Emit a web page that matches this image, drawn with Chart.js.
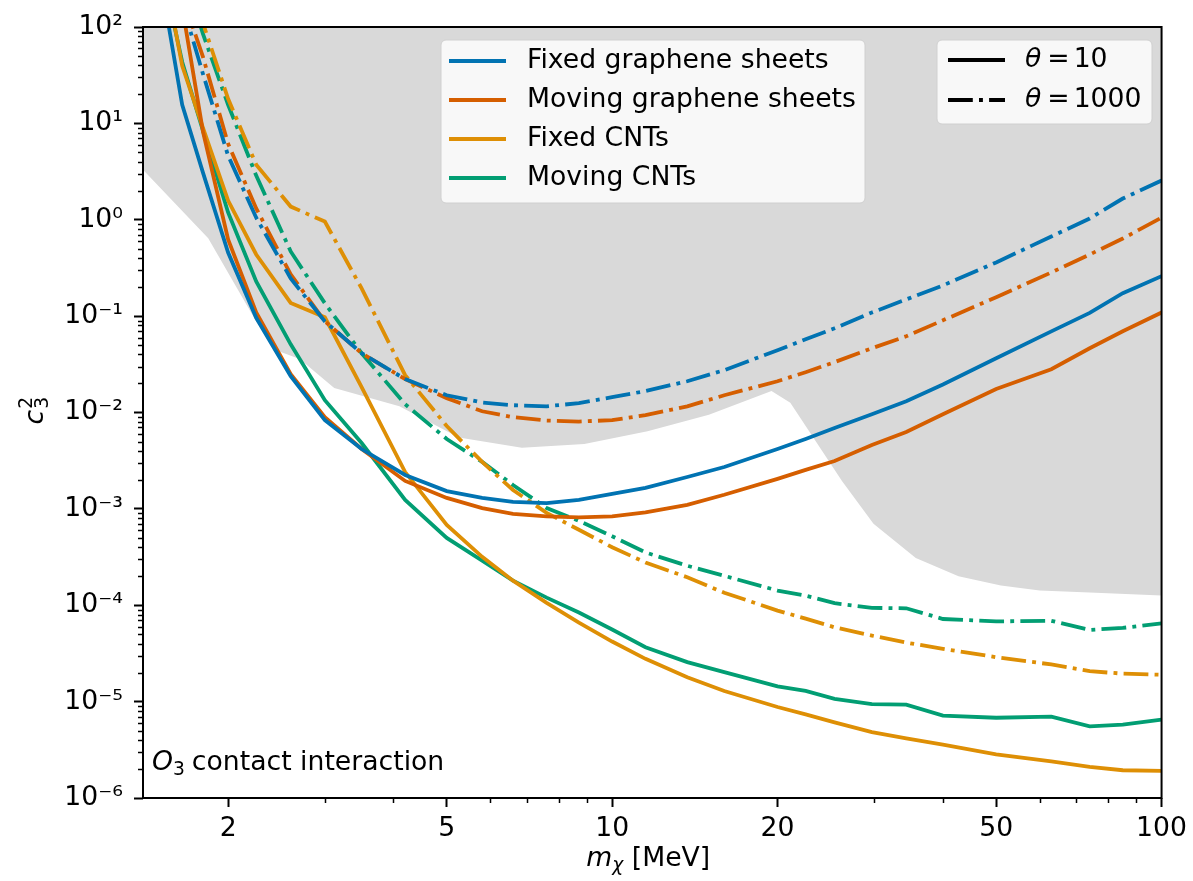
<!DOCTYPE html>
<html>
<head>
<meta charset="utf-8">
<script src="https://cdn.jsdelivr.net/npm/chart.js@4.4.0/dist/chart.umd.min.js"></script>
<style>
  html, body { margin: 0; padding: 0; background: #fff; }
</style>
</head>
<body>
<canvas id="limits-chart" width="1193" height="881"></canvas>
<script>
// dark matter mass grid (MeV)
const massMeV = [1.5, 1.55, 1.65, 1.8, 2.0, 2.25, 2.6, 3.0, 3.5, 4.2, 5.0, 5.8, 6.6, 7.6, 8.7,
    10, 11.5, 13.7, 16, 20, 22.5, 25.4, 29.7, 34.3, 40, 50, 63, 74, 85, 100];

// c3^2 reach, theta = 10
const fixedGrapheneT10 = [376, 125, 15.6, 3.08, 0.457, 0.096, 0.0238, 0.00834, 0.00418, 0.00225, 0.00153, 0.0013, 0.00118, 0.00115, 0.00124,
    0.00143, 0.00165, 0.00214, 0.00272, 0.00418, 0.00531, 0.0069, 0.0096, 0.0131, 0.0195, 0.0365, 0.0695, 0.108, 0.173, 0.26];
const movingGrapheneT10 = [2000, 960, 161, 8.2, 0.624, 0.109, 0.025, 0.00895, 0.00418, 0.00195, 0.0013, 0.00102, 8.87e-4, 8.36e-4, 8.17e-4,
    8.36e-4, 9.2e-4, 1.1e-3, 1.4e-3, 2.05e-3, 2.54e-3, 3.14e-3, 4.6e-3, 6.27e-3, 9.6e-3, 0.0175, 0.0281, 0.0464, 0.0697, 0.109];
const fixedCNTT10 = [400, 260, 39.5, 9.0, 1.58, 0.436, 0.137, 0.0972, 0.0183, 0.00241, 6.8e-4, 3.18e-4, 1.8e-4, 1.06e-4, 6.6e-5,
    4.2e-5, 2.78e-5, 1.79e-5, 1.29e-5, 8.8e-6, 7.37e-6, 6.1e-6, 4.83e-6, 4.16e-6, 3.58e-6, 2.84e-6, 2.4e-6, 2.1e-6, 1.94e-6, 1.91e-6];
const movingCNTT10 = [500, 223, 43.4, 8.4, 1.19, 0.229, 0.051, 0.0134, 0.00482, 0.00124, 5.0e-4, 2.9e-4, 1.8e-4, 1.2e-4, 8.4e-5,
    5.6e-5, 3.67e-5, 2.57e-5, 2.02e-5, 1.44e-5, 1.29e-5, 1.07e-5, 9.4e-6, 9.3e-6, 7.15e-6, 6.8e-6, 7.0e-6, 5.53e-6, 5.77e-6, 6.5e-6];

// c3^2 reach, theta = 1000
const fixedGrapheneT1000 = [1200, 630, 175, 32.6, 4.62, 1.05, 0.246, 0.0883, 0.0412, 0.0222, 0.0151, 0.0127, 0.0119, 0.0116, 0.0125,
    0.0144, 0.0167, 0.0211, 0.0275, 0.0443, 0.0575, 0.0748, 0.109, 0.149, 0.208, 0.361, 0.67, 1.03, 1.66, 2.55];
const movingGrapheneT1000 = [1400, 750, 210, 49, 6.15, 1.31, 0.271, 0.0883, 0.0412, 0.0222, 0.0141, 0.0103, 0.00895, 0.00824, 0.00805,
    0.00834, 0.0094, 0.0116, 0.0151, 0.0211, 0.0262, 0.0333, 0.0464, 0.0618, 0.0905, 0.157, 0.284, 0.436, 0.638, 1.05];
const fixedCNTT1000 = [2500, 1400, 490, 110, 18.0, 3.73, 1.37, 0.957, 0.194, 0.0244, 0.00723, 0.00307, 0.00157, 9.1e-4, 6.07e-4,
    4.0e-4, 2.78e-4, 1.95e-4, 1.35e-4, 8.8e-5, 7.27e-5, 5.9e-5, 4.84e-5, 4.1e-5, 3.53e-5, 2.89e-5, 2.43e-5, 2.07e-5, 1.95e-5, 1.9e-5];
const movingCNTT1000 = [2000, 1000, 430, 84.7, 15.6, 2.87, 0.469, 0.136, 0.0412, 0.0122, 0.00531, 0.00307, 0.00177, 0.00102, 7.5e-4,
    5.2e-4, 3.53e-4, 2.57e-4, 2.02e-4, 1.42e-4, 1.26e-4, 1.05e-4, 9.4e-5, 9.3e-5, 7.2e-5, 6.8e-5, 6.9e-5, 5.55e-5, 5.82e-5, 6.5e-5];

// lower edge of the shaded (excluded) region
const exclusionMass = [1.4, 1.84, 2.25, 2.48, 2.7, 3.12, 4.1, 5.26, 6.85, 8.9, 11.6, 15, 19.5, 21.1, 26.2, 29.9, 35.7, 42.7, 51, 60, 74, 100];
const exclusionC3sq = [3.3, 0.644, 0.088, 0.043, 0.036, 0.018, 0.0116, 0.0055, 0.0043, 0.0047, 0.0064, 0.0095, 0.0167, 0.0126, 0.00195,
    7e-4, 3.1e-4, 2.0e-4, 1.6e-4, 1.42e-4, 1.36e-4, 1.26e-4];

const xMajorTicks = [2, 5, 10, 20, 50, 100];
const xMinorTicks = [3, 4, 6, 7, 8, 9, 30, 40, 60, 70, 80, 90];
const yMajorTicks = [1e-6, 1e-5, 1e-4, 1e-3, 1e-2, 1e-1, 1, 10, 100];
const yTickLabels = ['10⁻⁶', '10⁻⁵', '10⁻⁴', '10⁻³', '10⁻²', '10⁻¹', '10⁰', '10¹', '10²'];

const materialLabels = ['Fixed graphene sheets', 'Moving graphene sheets', 'Fixed CNTs', 'Moving CNTs'];
const materialColors = ['#0173b2', '#d55e00', '#de8f05', '#029e73'];
const thetaLabels = ['10', '1000'];

const FONT = 'DejaVu Sans';
const FS = 26.67;
const SUB = 18.7;
const LW = 3.8;
const DASHDOT = [24.8, 6.2, 3.9, 6.2];

function points(xs, ys) {
    return xs.map((x, i) => ({ x: x, y: ys[i] }));
}

function lineSet(label, values, color, dashed) {
    return {
        label: label,
        data: points(massMeV, values),
        borderColor: color,
        borderWidth: LW,
        borderDash: dashed ? DASHDOT : [],
        pointRadius: 0,
        tension: 0,
        fill: false,
        order: 1
    };
}

const t10 = [fixedGrapheneT10, movingGrapheneT10, fixedCNTT10, movingCNTT10];
const t1000 = [fixedGrapheneT1000, movingGrapheneT1000, fixedCNTT1000, movingCNTT1000];

const datasets = [{
    label: 'excluded',
    data: points(exclusionMass, exclusionC3sq),
    borderWidth: 0,
    borderColor: 'rgba(0,0,0,0)',
    backgroundColor: '#d9d9d9',
    pointRadius: 0,
    tension: 0,
    fill: 'end',
    order: 10
}];
materialLabels.forEach((name, i) => {
    datasets.push(lineSet(name + ' θ=10', t10[i], materialColors[i], false));
    datasets.push(lineSet(name + ' θ=1000', t1000[i], materialColors[i], true));
});

function roundRect(ctx, x, y, w, h, r) {
    ctx.beginPath();
    ctx.moveTo(x + r, y);
    ctx.arcTo(x + w, y, x + w, y + h, r);
    ctx.arcTo(x + w, y + h, x, y + h, r);
    ctx.arcTo(x, y + h, x, y, r);
    ctx.arcTo(x, y, x + w, y, r);
    ctx.closePath();
}

function legendFrame(ctx, x, y, w, h) {
    roundRect(ctx, x, y, w, h, 5);
    ctx.fillStyle = 'rgba(255,255,255,0.8)';
    ctx.fill();
    ctx.strokeStyle = '#d0d0d0';
    ctx.lineWidth = 1;
    ctx.stroke();
}

function legendLine(ctx, x1, x2, y, color, dash) {
    ctx.save();
    ctx.strokeStyle = color;
    ctx.lineWidth = LW;
    ctx.setLineDash(dash);
    ctx.beginPath();
    ctx.moveTo(x1, y);
    ctx.lineTo(x2, y);
    ctx.stroke();
    ctx.restore();
}

// frame, minor ticks, legends and math-style labels
const decorations = {
    id: 'decorations',
    afterDraw(chart) {
        const ctx = chart.ctx;
        const a = chart.chartArea;
        const xs = chart.scales.x, ys = chart.scales.y;
        ctx.save();

        // minor ticks
        ctx.strokeStyle = '#000';
        ctx.lineWidth = 1.5;
        ctx.beginPath();
        xMinorTicks.forEach(v => {
            const px = Math.round(xs.getPixelForValue(v)) + 0.5;
            ctx.moveTo(px, a.bottom);
            ctx.lineTo(px, a.bottom + 5);
        });
        for (let k = -6; k < 2; k++) {
            for (let d = 2; d <= 9; d++) {
                const py = Math.round(ys.getPixelForValue(d * Math.pow(10, k))) + 0.5;
                ctx.moveTo(a.left, py);
                ctx.lineTo(a.left - 5, py);
            }
        }
        ctx.stroke();

        // frame
        ctx.lineWidth = 2;
        ctx.strokeRect(a.left, a.top, a.right - a.left, a.bottom - a.top);

        // material legend
        legendFrame(ctx, 441, 40, 424, 163);
        ctx.font = FS + 'px ' + FONT;
        ctx.textBaseline = 'middle';
        ctx.textAlign = 'left';
        materialLabels.forEach((name, i) => {
            const y = 61 + i * 39;
            legendLine(ctx, 449, 506, y, materialColors[i], []);
            ctx.fillStyle = '#000';
            ctx.fillText(name, 527, y);
        });

        // theta legend
        legendFrame(ctx, 937, 40, 215, 84);
        thetaLabels.forEach((t, i) => {
            const y = 60 + i * 40;
            legendLine(ctx, 948, 1005, y, '#000', i === 0 ? [] : DASHDOT);
            ctx.fillStyle = '#000';
            ctx.font = 'italic ' + FS + 'px ' + FONT;
            ctx.fillText('θ', 1025, y);
            let lx = 1025 + ctx.measureText('θ').width + 6;
            ctx.font = FS + 'px ' + FONT;
            ctx.fillText('=', lx, y);
            lx += ctx.measureText('=').width + 4;
            ctx.fillText(t, lx, y);
        });

        // annotation
        ctx.textBaseline = 'alphabetic';
        ctx.font = 'italic ' + FS + 'px ' + FONT;
        ctx.fillText('O', 152, 770);
        let ox = 152 + ctx.measureText('O').width;
        ctx.font = SUB + 'px ' + FONT;
        ctx.fillText('3', ox, 775);
        ox += ctx.measureText('3').width + 7;
        ctx.font = FS + 'px ' + FONT;
        ctx.fillText('contact interaction', ox, 770);

        // x axis title
        ctx.font = 'italic ' + FS + 'px ' + FONT;
        const mw = ctx.measureText('m').width;
        ctx.font = 'italic ' + SUB + 'px ' + FONT;
        const cw = ctx.measureText('χ').width;
        ctx.font = FS + 'px ' + FONT;
        const rw = ctx.measureText(' [MeV]').width;
        const tx = (a.left + a.right) / 2 - (mw + cw + rw) / 2 - 4;
        ctx.font = 'italic ' + FS + 'px ' + FONT;
        ctx.fillText('m', tx, 866);
        ctx.font = 'italic ' + SUB + 'px ' + FONT;
        ctx.fillText('χ', tx + mw, 871);
        ctx.font = FS + 'px ' + FONT;
        ctx.fillText(' [MeV]', tx + mw + cw, 866);

        // y axis title
        ctx.translate(43, (a.top + a.bottom) / 2);
        ctx.rotate(-Math.PI / 2);
        ctx.font = 'italic ' + FS + 'px ' + FONT;
        ctx.fillText('c', -12, 0);
        const c = ctx.measureText('c').width;
        ctx.font = SUB + 'px ' + FONT;
        ctx.fillText('2', -12 + c + 1, -11);
        ctx.fillText('3', -12 + c + 1, 5);

        ctx.restore();
    }
};

Chart.defaults.font.family = FONT;
Chart.defaults.color = '#000';

new Chart(document.getElementById('limits-chart'), {
    type: 'line',
    data: { datasets: datasets },
    options: {
        responsive: false,
        animation: false,
        layout: { padding: { top: 25, right: 29, left: 0, bottom: 0 } },
        plugins: {
            legend: { display: false },
            tooltip: { enabled: false }
        },
        scales: {
            x: {
                type: 'logarithmic',
                min: 1.4,
                max: 100,
                afterBuildTicks: s => { s.ticks = xMajorTicks.map(v => ({ value: v })); },
                afterFit: s => { s.height = 83; },
                ticks: {
                    autoSkip: false,
                    maxRotation: 0,
                    padding: 6,
                    color: '#000',
                    font: { size: FS },
                    callback: v => String(v)
                },
                grid: { drawOnChartArea: false, tickLength: 9, tickWidth: 2, tickColor: '#000' },
                border: { display: false }
            },
            y: {
                type: 'logarithmic',
                min: 1e-6,
                max: 100,
                afterBuildTicks: s => { s.ticks = yMajorTicks.map(v => ({ value: v })); },
                afterFit: s => { s.width = 143; },
                ticks: {
                    autoSkip: false,
                    padding: 11,
                    color: '#000',
                    font: { size: FS },
                    callback: (v, i) => yTickLabels[i]
                },
                grid: { drawOnChartArea: false, tickLength: 9, tickWidth: 2, tickColor: '#000' },
                border: { display: false }
            }
        }
    },
    plugins: [decorations]
});
</script>
</body>
</html>
